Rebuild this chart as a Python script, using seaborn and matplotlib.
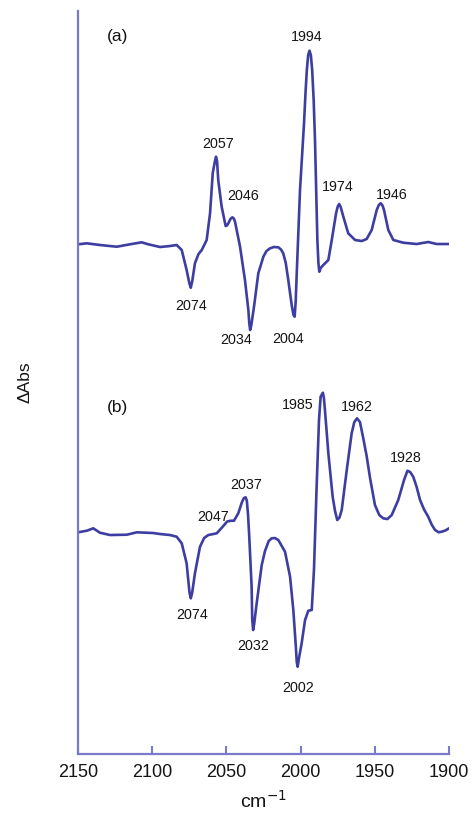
import numpy as np
import pandas as pd
import matplotlib
matplotlib.use("Agg")
import matplotlib.pyplot as plt
import seaborn as sns

# Difference IR spectra (arbitrary ΔAbs units), wavenumbers in cm-1
wn_a = [2150, 2144.1, 2135.2, 2123.9, 2115.0, 2107.1, 2102.6, 2094.7, 2088.0, 2083.5,
        2080.1, 2076.8, 2075.0, 2074, 2073.0, 2071.2, 2068.8, 2066.6, 2063.3, 2061.0,
        2059.2, 2057.7, 2057, 2056.3, 2055.5, 2053.2, 2050.5, 2049.6, 2048.7, 2047.3,
        2046, 2045.0, 2044.2, 2040.8, 2037.5, 2035.2, 2034.6, 2034, 2033.2, 2031.4,
        2028.5, 2025.1, 2023.0, 2020.6, 2018.0, 2015.0, 2013.2, 2011.7, 2010.0, 2008.3,
        2006.0, 2004.8, 2004, 2003.3, 2002.6, 2000.4, 1997.7, 1996.7, 1995.8, 1994.9,
        1994, 1993.1, 1992.2, 1991.2, 1990.3, 1989.5, 1988.7, 1988.0, 1987.4, 1986.5,
        1984.7, 1981.3, 1979.0, 1976.1, 1975.0, 1974, 1973.0, 1971.2, 1967.9, 1963.3,
        1958.8, 1955.5, 1952.1, 1948.7, 1947.3, 1946, 1944.8, 1943.8, 1940.9, 1937.5,
        1930.8, 1921.8, 1914.0, 1908.3, 1900]
abs_a = [0.07, 0.17, 0.0, -0.17, 0.07, 0.27, 0.07, -0.2, -0.1, 0.0,
         -0.5, -2.5, -3.8, -4.27, -3.6, -1.83, -0.9, -0.5, 0.5, 3.2,
         7.2, 8.4, 8.83, 8.4, 6.5, 3.83, 1.9, 1.95, 2.17, 2.6,
         2.77, 2.65, 2.33, -0.17, -3.5, -6.5, -7.8, -8.5, -8.0, -6.17,
         -2.83, -1.17, -0.6, -0.33, -0.2, -0.23, -0.45, -0.83, -1.8, -3.5,
         -6.0, -7.0, -7.17, -5.6, -2.83, 5.5, 12.17, 15.2, 17.5, 19.0,
         19.43, 19.0, 17.5, 14.5, 10.5, 5.5, 0.5, -1.8, -2.67, -2.3,
         -2.0, -1.5, 0.5, 3.17, 3.85, 4.1, 3.8, 2.83, 1.17, 0.5,
         0.4, 0.6, 1.5, 3.5, 4.0, 4.17, 3.95, 3.5, 1.5, 0.5,
         0.23, 0.1, 0.3, 0.1, 0.1]

wn_b = [2150, 2144.1, 2139.7, 2135.2, 2128.4, 2117.2, 2110.4, 2099.3, 2094.7, 2088.0,
        2083.5, 2080.1, 2076.8, 2074.9, 2074, 2073.1, 2071.2, 2067.8, 2065.0, 2062.2,
        2056.5, 2052.1, 2049.5, 2047, 2044.9, 2042.0, 2039.5, 2038.2, 2037, 2036.2,
        2035.4, 2034.6, 2033.0, 2032.6, 2032, 2031.3, 2029.6, 2026.2, 2024.0, 2021.5,
        2019.5, 2017.3, 2015.0, 2010.5, 2007.1, 2004.9, 2003.2, 2002.6, 2002, 2001.2,
        1999.3, 1997.0, 1994.8, 1992.5, 1991.0, 1989.2, 1987.6, 1986.5, 1985, 1984.3,
        1983.6, 1981.3, 1978.4, 1976.8, 1975.3, 1973.8, 1972.3, 1968.9, 1965.6, 1963.8,
        1962, 1960.0, 1957.8, 1955.5, 1953.2, 1949.9, 1947.0, 1944.3, 1941.5, 1938.6,
        1934.2, 1930.3, 1928, 1926.2, 1924.1, 1921.8, 1919.5, 1916.8, 1914.0, 1911.7,
        1909.4, 1907.0, 1904.9, 1902.5, 1900]
abs_b = [0.07, 0.23, 0.47, 0.03, -0.2, -0.17, 0.07, 0.0, -0.1, -0.2,
         -0.37, -1.03, -3.03, -5.9, -6.53, -6.0, -4.03, -1.37, -0.5, -0.2,
         -0.03, 0.7, 1.15, 1.23, 1.23, 1.97, 3.1, 3.5, 3.57, 3.2,
         1.8, -0.37, -5.37, -8.6, -9.7, -9.1, -7.03, -3.2, -1.8, -0.8,
         -0.53, -0.5, -0.7, -1.87, -4.37, -7.7, -11.37, -12.9, -13.37, -12.6,
         -11.03, -8.7, -7.77, -7.7, -3.7, 4.63, 11.3, 13.63, 14.03, 13.5,
         12.3, 7.97, 3.63, 2.2, 1.3, 1.55, 2.3, 6.3, 9.97, 11.1,
         11.47, 11.1, 9.5, 7.7, 5.5, 2.8, 1.8, 1.47, 1.4, 1.8,
         3.3, 5.3, 6.23, 6.1, 5.63, 4.6, 3.3, 2.35, 1.63, 0.85,
         0.3, 0.08, 0.13, 0.25, 0.47]

# Labelled band positions
peaks_a = [2074, 2057, 2046, 2034, 2004, 1994, 1974, 1946]
peaks_b = [2074, 2047, 2037, 2032, 2002, 1985, 1962, 1928]

xticks = [2150, 2100, 2050, 2000, 1950, 1900]

# vertical stacking of trace (a) above trace (b)
offset_a = 28.8

line_color = "#3d3da2"
axis_color = "#7a7ac8"
text_color = "#141414"

sns.set_theme(style="white")
plt.rcParams["font.family"] = ["Liberation Sans", "DejaVu Sans"]

fig = plt.figure(figsize=(4.71, 8.15), dpi=100)
ax = fig.add_axes([0.1656, 0.0748, 0.7877, 0.9117])

df = pd.concat([
    pd.DataFrame({"wn": wn_a, "dabs": np.array(abs_a) + offset_a, "trace": "a"}),
    pd.DataFrame({"wn": wn_b, "dabs": np.array(abs_b), "trace": "b"}),
])
sns.lineplot(data=df, x="wn", y="dabs", units="trace", estimator=None,
             color=line_color, lw=1.9, sort=False, ax=ax, legend=False)
for l in ax.lines:
    l.set_solid_joinstyle("round")
    l.set_solid_capstyle("round")

# peak labels: (dx, dy) offsets in pixels from the band extremum
offs_a = [(0, -18), (2, 13), (11, 21), (-14, -10), (-7, -22), (-3, 14), (-1, 17), (11, 8)]
offs_b = [(1, -17), (-18, 4), (0, 12), (0, -16), (0, -21), (-25, -12), (0, 11), (-2, 13)]

lut_a = dict(zip(wn_a, abs_a))
lut_b = dict(zip(wn_b, abs_b))
for p, (dx, dy) in zip(peaks_a, offs_a):
    ax.annotate(str(p), (p, lut_a[p] + offset_a), xytext=(dx, dy),
                textcoords="offset pixels", ha="center", va="center",
                fontsize=10.3, color=text_color)
for p, (dx, dy) in zip(peaks_b, offs_b):
    ax.annotate(str(p), (p, lut_b[p]), xytext=(dx, dy),
                textcoords="offset pixels", ha="center", va="center",
                fontsize=10.3, color=text_color)

ax.text(2123.5, 49.7, "(a)", ha="center", va="center", fontsize=12.5, color=text_color)
ax.text(2123.5, 12.6, "(b)", ha="center", va="center", fontsize=12.5, color=text_color)

ax.set_xlim(2150, 1900)
ax.set_ylim(-22.1, 52.2)
ax.set_xticks(xticks)
ax.set_xticklabels([str(t) for t in xticks])
ax.set_yticks([])

for side in ["top", "right"]:
    ax.spines[side].set_visible(False)
for side in ["left", "bottom"]:
    ax.spines[side].set_color(axis_color)
    ax.spines[side].set_linewidth(1.6)

ax.tick_params(axis="x", direction="in", length=6, width=1.5, color=axis_color,
               labelsize=13, labelcolor=text_color, pad=7, bottom=True)

ax.set_xlabel("cm$^{-1}$", fontsize=14, color=text_color)
ax.xaxis.set_label_coords(0.5, -0.063)
ax.xaxis.label.set_va("center")
ax.set_ylabel("ΔAbs", fontsize=12.5, color=text_color)
ax.yaxis.set_label_coords(-0.143, 0.5)
ax.yaxis.label.set_va("center")

fig.savefig("out.png", dpi=100, facecolor="white")
